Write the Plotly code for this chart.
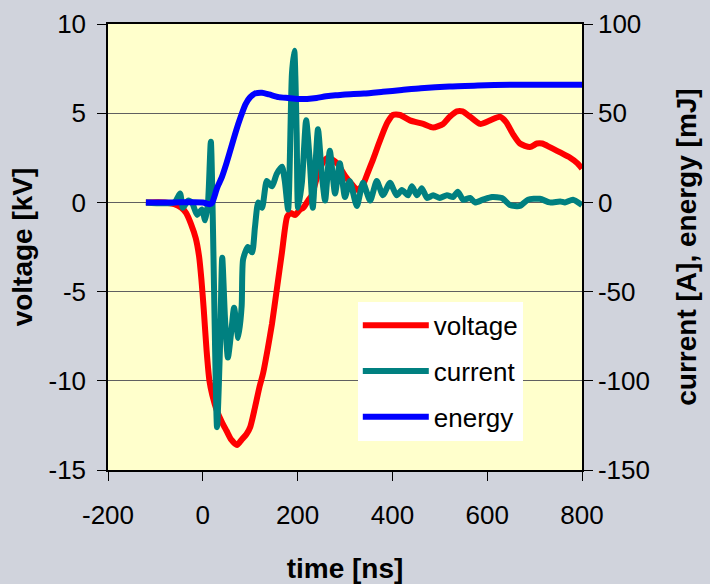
import plotly.graph_objects as go

# ---- data ----
volt_t = [-120, -80, -60, -45, -35, -25, -15, -8, -3, 2, 8, 14, 20, 30, 40, 50, 60, 72, 82, 92,
          100, 110, 120, 127, 137, 146, 156, 167, 178, 185, 195, 205, 212, 222, 230, 243, 255, 265,
          283, 300, 315, 327, 338, 350, 359, 370, 380, 390, 401, 416, 437, 465, 486, 507, 521, 536,
          548, 564, 585, 606, 627, 640, 655, 669, 690, 705, 716, 732, 754, 775, 790, 800]
volt_kv = [0, 0, -0.1, -0.3, -0.6, -1.2, -2.0, -3.0, -4.3, -6.0, -8.3, -10.0, -10.8, -11.7, -12.3,
           -12.8, -13.3, -13.6, -13.3, -13.0, -12.6, -11.5, -10.3, -9.6, -8.2, -6.8, -4.9, -2.8,
           -0.8, -0.6, -0.7, -0.4, -0.3, 0.1, 0.4, 1.6, 2.3, 2.5, 2.2, 1.5, 1.0, 0.7, 1.0, 1.8, 2.4,
           3.2, 3.9, 4.5, 4.9, 4.9, 4.6, 4.4, 4.2, 4.4, 4.8, 5.1, 5.1, 4.8, 4.4, 4.6, 4.8, 4.5, 3.8,
           3.3, 3.1, 3.3, 3.3, 3.1, 2.8, 2.5, 2.2, 1.9]

curr_t = [-120, -60, -48, -42, -31, -23, -12, -2, 5, 11, 17, 30, 36, 41, 47, 53, 61, 66, 75, 82,
          85, 95, 104, 110, 117, 125, 135, 146, 156, 167, 173, 180, 188, 193, 198, 201, 209, 218,
          226, 232, 243, 251, 258, 268, 279, 289, 300, 310, 325, 338, 353, 367, 380, 395, 409, 420,
          433, 441, 452, 462, 473, 486, 500, 515, 528, 538, 549, 564, 574, 591, 610, 631, 648, 669,
          686, 711, 732, 754, 764, 781, 800]
curr_a = [0, 0, 5, -3, 1, 0, -7, -4, -10, 0, 34, -126, -84, -31, -66, -87, -70, -59, -76, -58,
          -32, -25, -28, -14, 0, -3, 12, 9, 16, 20, 12, -4, 72, 85, 39, -3, 11, 46, 22, -3, 41, 16,
          1, 29, 5, 22, 3, 12, -2, 11, 1, 12, 4, 11, 4, 7, 4, 9, 4, 8, 2.5, 4, 2.5, 4, 3, 6, 1.5,
          2.5, 0, 1.5, 3, 2.5, -1.5, -2, 1.5, 2, 0, 0.5, 0, 1.5, -1.5]

energy_t = [-120, -60, 0, 15, 20, 30, 40, 50, 60, 70, 80, 90, 100, 110, 125, 140, 160, 180, 200,
            220, 240, 260, 280, 300, 340, 380, 420, 460, 520, 580, 650, 720, 800]
energy_mj = [0, 0, 0, -1, 0, 8, 14, 22, 31, 40, 48, 55, 59, 61, 61.5, 60.5, 59, 58.5, 58, 58,
             58.5, 59.5, 60, 60.5, 61, 62, 63, 64, 65, 65.5, 66, 66, 66]

x_ticks = [-200, 0, 200, 400, 600, 800]
x_labels = ["-200", "0", "200", "400", "600", "800"]
y1_ticks = [-15, -10, -5, 0, 5, 10]
y1_labels = ["-15", "-10", "-5", "0", "5", "10"]
y2_ticks = [-150, -100, -50, 0, 50, 100]
y2_labels = ["-150", "-100", "-50", "0", "50", "100"]

FONT = "Liberation Sans, Arial, sans-serif"
TICK = 26
TITLE = 28

fig = go.Figure()
fig.add_trace(go.Scatter(x=volt_t, y=volt_kv, name="voltage", mode="lines",
                         line=dict(color="#ff0000", width=6, shape="spline", smoothing=0.6),
                         yaxis="y", legendgroup="a"))
fig.add_trace(go.Scatter(x=curr_t, y=curr_a, name="current", mode="lines",
                         line=dict(color="#008080", width=6, shape="spline", smoothing=0.6),
                         yaxis="y2", legendgroup="b"))
fig.add_trace(go.Scatter(x=energy_t, y=energy_mj, name="energy", mode="lines",
                         line=dict(color="#0000ff", width=6, shape="spline", smoothing=0.6),
                         yaxis="y2", legendgroup="c"))

fig.update_layout(
    width=710, height=584,
    margin=dict(l=108, r=128, t=24, b=114),
    paper_bgcolor="#d0d3dc",
    plot_bgcolor="#ffffcc",
    font=dict(family=FONT, size=TICK, color="black"),
    xaxis=dict(range=[-200, 800], tickvals=x_ticks, ticktext=x_labels, ticks="outside", ticklen=9,
               tickcolor="black", showline=True, linecolor="black", linewidth=1.5,
               mirror=True, showgrid=False, zeroline=False, automargin=False,
               ticklabelstandoff=12,
               title=dict(text="<b>time [ns]</b>", font=dict(size=TITLE), standoff=29)),
    yaxis=dict(range=[-15, 10], tickvals=y1_ticks, ticktext=y1_labels, ticks="outside", ticklen=9,
               tickcolor="black", showline=True, linecolor="black", linewidth=1.5,
               showgrid=True, gridcolor="#606060", gridwidth=1, zeroline=False, automargin=False,
               ticklabelstandoff=6,
               title=dict(text="<b>voltage [kV]</b>", font=dict(size=TITLE), standoff=8)),
    yaxis2=dict(range=[-150, 100], tickvals=y2_ticks, ticktext=y2_labels, ticks="outside", ticklen=9,
                tickcolor="black", showline=True, linecolor="black", linewidth=1.5,
                overlaying="y", side="right", showgrid=False, zeroline=False, automargin=False,
                title=dict(text="<b>current [A], energy [mJ]</b>", font=dict(size=TITLE), standoff=27)),
    legend=dict(x=0.527, y=0.377, xanchor="left", yanchor="top", bgcolor="white",
                borderwidth=0, font=dict(size=TICK), traceorder="grouped", tracegroupgap=9,
                itemwidth=66),
    showlegend=True,
)

fig.write_html("out.html", config={"displayModeBar": False},
               post_script="document.body.style.margin='0';"
               "document.body.style.background='#d0d3dc';")
